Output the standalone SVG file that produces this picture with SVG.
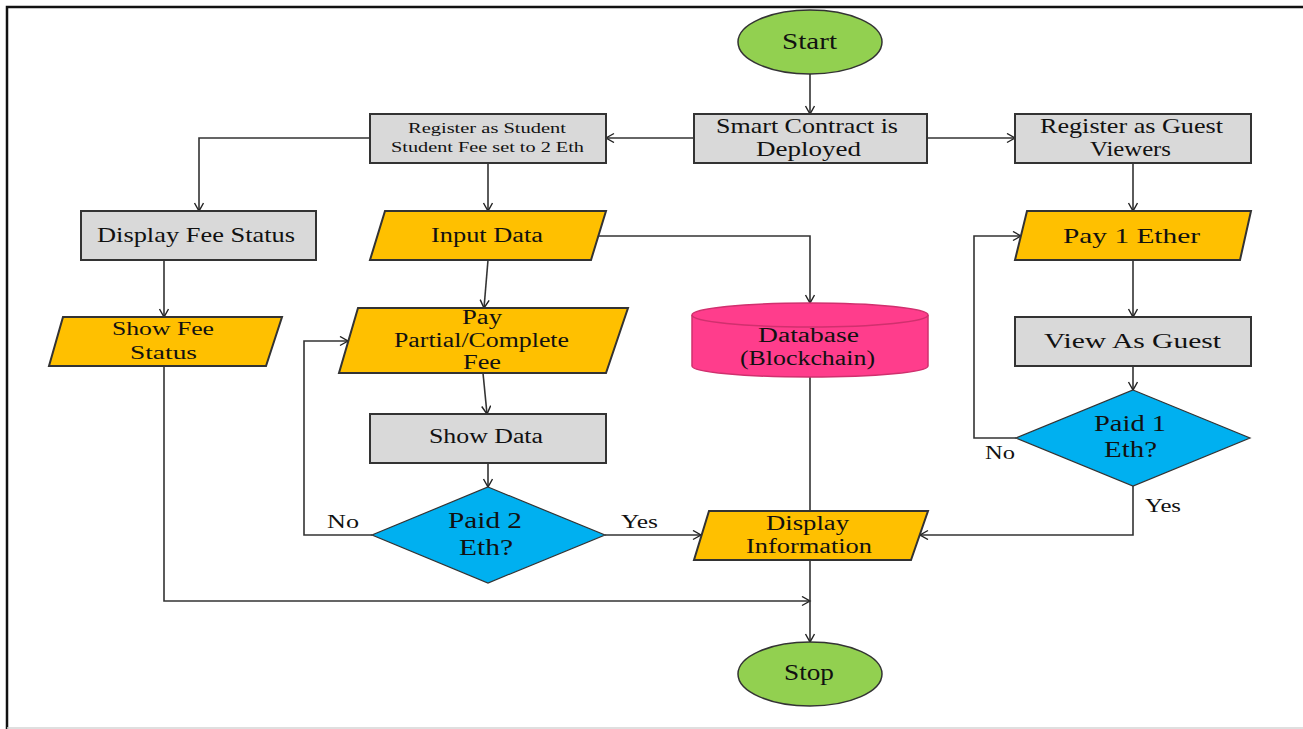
<svg xmlns="http://www.w3.org/2000/svg" width="1303" height="729" viewBox="0 0 1303 729">
<defs>
<marker id="arr" markerUnits="userSpaceOnUse" markerWidth="12" markerHeight="12" refX="9" refY="5" orient="auto">
<path d="M1,0.5 L9,5 L1,9.5" fill="none" stroke="#222" stroke-width="1.4"/>
</marker>
<style>
.t{font-family:"Liberation Serif","Times New Roman",serif;fill:#111}
.gray{fill:#d9d9d9;stroke:#333;stroke-width:2}
.org{fill:#ffc000;stroke:#333;stroke-width:2}
.blue{fill:#00b0f0;stroke:#333;stroke-width:1.2}
.green{fill:#92d050;stroke:#333;stroke-width:1.5}
.pink{fill:#ff3d8c;stroke:#d0306e;stroke-width:1.5}
.c{fill:none;stroke:#333;stroke-width:1.6}
</style>
</defs>
<rect width="1303" height="729" fill="#fff"/>
<path d="M7,729 V7 H1303" fill="none" stroke="#111" stroke-width="2.5"/>
<line x1="7" y1="728" x2="1303" y2="728" stroke="#d4d4d4" stroke-width="1.5"/>

<g id="connectors">
<path class="c" d="M810,74 V114" marker-end="url(#arr)"/>
<path class="c" d="M694,138 H606" marker-end="url(#arr)"/>
<path class="c" d="M927,138 H1015" marker-end="url(#arr)"/>
<path class="c" d="M370,138 H199 V211" marker-end="url(#arr)"/>
<path class="c" d="M488,163 V211" marker-end="url(#arr)"/>
<path class="c" d="M1133,163 V211" marker-end="url(#arr)"/>
<path class="c" d="M598,236 H810 V303" marker-end="url(#arr)"/>
<path class="c" d="M488,260 L484,308" marker-end="url(#arr)"/>
<path class="c" d="M164,260 V317" marker-end="url(#arr)"/>
<path class="c" d="M483,373 L487,414" marker-end="url(#arr)"/>
<path class="c" d="M488,463 V487" marker-end="url(#arr)"/>
<path class="c" d="M372,535 H304 V341 H348" marker-end="url(#arr)"/>
<path class="c" d="M605,535 H701" marker-end="url(#arr)"/>
<path class="c" d="M810,377 V511"/>
<path class="c" d="M1133,260 V317" marker-end="url(#arr)"/>
<path class="c" d="M1133,366 V390" marker-end="url(#arr)"/>
<path class="c" d="M1016,438 H974 V236 H1021" marker-end="url(#arr)"/>
<path class="c" d="M1133,486 V535 H920" marker-end="url(#arr)"/>
<path class="c" d="M164,366 V601 H810" marker-end="url(#arr)"/>
<path class="c" d="M810,560 V642" marker-end="url(#arr)"/>
<text class="t" x="327" y="528" font-size="19" textLength="32" lengthAdjust="spacingAndGlyphs">No</text>
<text class="t" x="621" y="528" font-size="19" textLength="37" lengthAdjust="spacingAndGlyphs">Yes</text>
<text class="t" x="985" y="459" font-size="19" textLength="30" lengthAdjust="spacingAndGlyphs">No</text>
<text class="t" x="1145" y="512" font-size="19" textLength="36" lengthAdjust="spacingAndGlyphs">Yes</text>
</g>

<g id="start">
<ellipse class="green" cx="810" cy="42" rx="72" ry="32"/>
<text class="t" x="782" y="49" font-size="24" textLength="55" lengthAdjust="spacingAndGlyphs">Start</text>
</g>

<g id="smart-contract">
<rect class="gray" x="694" y="114" width="233" height="49"/>
<text class="t" x="716" y="133" font-size="21" textLength="182" lengthAdjust="spacingAndGlyphs">Smart Contract is</text>
<text class="t" x="756" y="156" font-size="21" textLength="105" lengthAdjust="spacingAndGlyphs">Deployed</text>
</g>

<g id="register-student">
<rect class="gray" x="370" y="114" width="236" height="49"/>
<text class="t" x="408" y="133" font-size="15" textLength="158" lengthAdjust="spacingAndGlyphs">Register as Student</text>
<text class="t" x="391" y="152" font-size="15" textLength="193" lengthAdjust="spacingAndGlyphs">Student Fee set to 2 Eth</text>
</g>

<g id="register-guest">
<rect class="gray" x="1015" y="114" width="236" height="49"/>
<text class="t" x="1040" y="133" font-size="21" textLength="183" lengthAdjust="spacingAndGlyphs">Register as Guest</text>
<text class="t" x="1090" y="156" font-size="21" textLength="81" lengthAdjust="spacingAndGlyphs">Viewers</text>
</g>

<g id="display-fee-status">
<rect class="gray" x="81" y="211" width="235" height="49"/>
<text class="t" x="97" y="242" font-size="21" textLength="198" lengthAdjust="spacingAndGlyphs">Display Fee Status</text>
</g>

<g id="input-data">
<polygon class="org" points="385,211 606,211 591,260 370,260"/>
<text class="t" x="431" y="242" font-size="20" textLength="112" lengthAdjust="spacingAndGlyphs">Input Data</text>
</g>

<g id="pay-1-ether">
<polygon class="org" points="1027,211 1251,211 1240,260 1015,260"/>
<text class="t" x="1063" y="243" font-size="22" textLength="137" lengthAdjust="spacingAndGlyphs">Pay 1 Ether</text>
</g>

<g id="show-fee-status">
<polygon class="org" points="63,317 282,317 266,366 49,366"/>
<text class="t" x="112" y="335" font-size="19" textLength="102" lengthAdjust="spacingAndGlyphs">Show Fee</text>
<text class="t" x="130" y="359" font-size="19" textLength="67" lengthAdjust="spacingAndGlyphs">Status</text>
</g>

<g id="pay-fee">
<polygon class="org" points="358,308 628,308 606,373 339,373"/>
<text class="t" x="462" y="324" font-size="20" textLength="40" lengthAdjust="spacingAndGlyphs">Pay</text>
<text class="t" x="394" y="347" font-size="20" textLength="175" lengthAdjust="spacingAndGlyphs">Partial/Complete</text>
<text class="t" x="463" y="369" font-size="20" textLength="38" lengthAdjust="spacingAndGlyphs">Fee</text>
</g>

<g id="database">
<path class="pink" d="M692,315 V366 A118,11 0 0 0 928,366 V315 A118,12 0 0 0 692,315 Z"/>
<path class="pink" d="M692,315 A118,12 0 0 0 928,315" fill="none"/>
<text class="t" x="758" y="342" font-size="20" textLength="101" lengthAdjust="spacingAndGlyphs" fill="#2a0a20">Database</text>
<text class="t" x="740" y="365" font-size="20" textLength="135" lengthAdjust="spacingAndGlyphs" fill="#2a0a20">(Blockchain)</text>
</g>

<g id="view-as-guest">
<rect class="gray" x="1015" y="317" width="236" height="49"/>
<text class="t" x="1044" y="348" font-size="22" textLength="177" lengthAdjust="spacingAndGlyphs">View As Guest</text>
</g>

<g id="show-data">
<rect class="gray" x="370" y="414" width="236" height="49"/>
<text class="t" x="429" y="443" font-size="20" textLength="114" lengthAdjust="spacingAndGlyphs">Show Data</text>
</g>

<g id="paid-1-eth">
<polygon class="blue" points="1133,390 1250,438 1133,486 1016,438"/>
<text class="t" x="1094" y="431" font-size="23" textLength="72" lengthAdjust="spacingAndGlyphs" fill="#0a1440">Paid 1</text>
<text class="t" x="1104" y="457" font-size="23" textLength="53" lengthAdjust="spacingAndGlyphs" fill="#0a1440">Eth?</text>
</g>

<g id="paid-2-eth">
<polygon class="blue" points="488,487 605,535 488,583 372,535"/>
<text class="t" x="448" y="528" font-size="23" textLength="74" lengthAdjust="spacingAndGlyphs" fill="#0a1440">Paid 2</text>
<text class="t" x="459" y="555" font-size="23" textLength="54" lengthAdjust="spacingAndGlyphs" fill="#0a1440">Eth?</text>
</g>

<g id="display-information">
<polygon class="org" points="709,511 928,511 911,560 694,560"/>
<text class="t" x="766" y="530" font-size="20" textLength="83" lengthAdjust="spacingAndGlyphs">Display</text>
<text class="t" x="746" y="553" font-size="20" textLength="126" lengthAdjust="spacingAndGlyphs">Information</text>
</g>

<g id="stop">
<ellipse class="green" cx="810" cy="674" rx="72" ry="32"/>
<text class="t" x="784" y="680" font-size="24" textLength="50" lengthAdjust="spacingAndGlyphs">Stop</text>
</g>
</svg>
